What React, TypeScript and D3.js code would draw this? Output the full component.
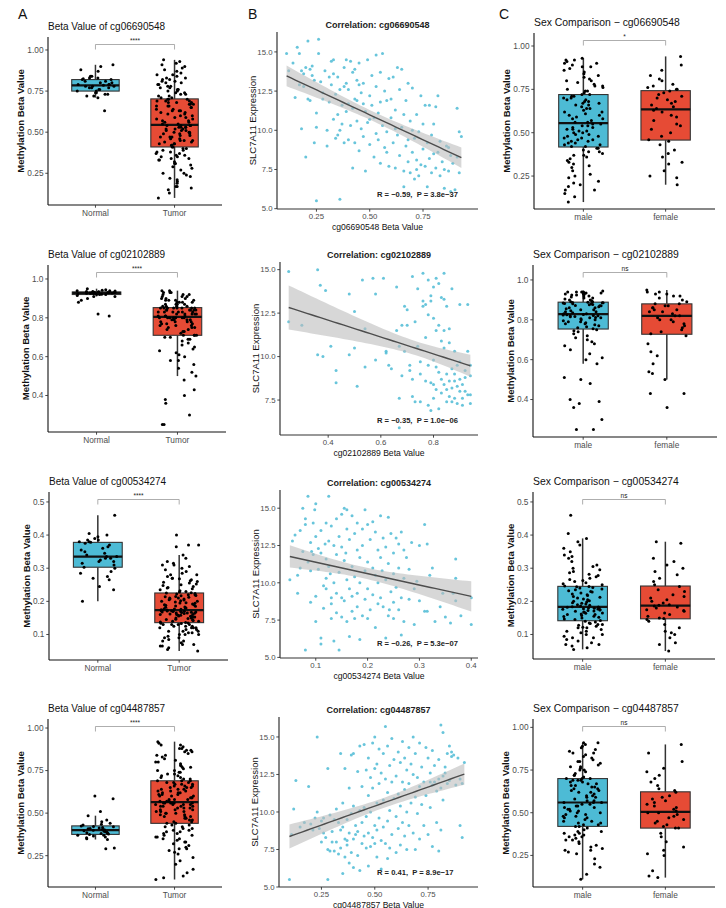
import * as d3 from 'd3';

const FONT = '"Liberation Sans", Arial, Helvetica, sans-serif';
const BLUE = '#4DBBD5';
const RED = '#E64B35';
const MINUS = '\u2212';

const probes = ['cg06690548', 'cg02102889', 'cg00534274', 'cg04487857'];
const tissueCats = ['Normal', 'Tumor'];
const sexCats = ['male', 'female'];
const tissueSig = ['****', '****', '****', '****'];
const sexSig = ['*', 'ns', 'ns', 'ns'];
const corrLabels = [
  `R = ${MINUS}0.59,  P = 3.8e${MINUS}37`,
  `R = ${MINUS}0.35,  P = 1.0e${MINUS}06`,
  `R = ${MINUS}0.26,  P = 5.3e${MINUS}07`,
  `R = 0.41,  P = 8.9e${MINUS}17`,
];

const ticksQuarter = [0.25, 0.5, 0.75, 1];
const ticksFifth = [0.4, 0.6, 0.8, 1];
const ticksTenth = [0.1, 0.2, 0.3, 0.4, 0.5];
const exprTicks = [5, 7.5, 10, 12.5, 15];
const betaXTicks = [[0.25, 0.5, 0.75], [0.4, 0.6, 0.8], [0.1, 0.2, 0.3, 0.4], [0.25, 0.5, 0.75]];

// ---- cg06690548 ----
const normalCg06690548 = [0.63,0.71,0.72,0.72,0.73,0.73,0.74,0.74,0.75,0.75,0.76,0.76,0.77,0.77,0.77,0.78,0.78,0.78,0.785,0.79,0.79,0.79,0.80,0.80,0.81,0.81,0.82,0.82,0.825,0.83,0.83,0.84,0.84,0.87,0.88,0.90,0.91];
const tumorCg06690548 = [
  0.10,0.13,0.15,0.16,0.17,0.17,0.19,0.20,0.21,0.22,0.23,0.24,0.25,0.25,0.27,0.28,0.29,0.30,0.31,0.31,0.32,0.33,0.33,0.34,0.34,0.35,0.35,0.36,0.36,0.37,0.37,0.38,0.38,0.39,0.39,0.40,0.40,0.41,
  0.41,0.42,0.42,0.43,0.43,0.43,0.44,0.44,0.45,0.45,0.45,0.46,0.46,0.47,0.47,0.47,0.48,0.48,0.49,0.49,0.49,0.50,0.50,0.50,0.51,0.51,0.51,0.52,0.52,0.52,0.53,0.53,0.53,0.53,0.54,0.54,0.54,0.54,
  0.55,0.55,0.56,0.56,0.57,0.57,0.58,0.58,0.59,0.59,0.60,0.60,0.61,0.61,0.62,0.62,0.63,0.63,0.63,0.64,0.64,0.65,0.65,0.66,0.66,0.66,0.67,0.67,0.67,0.68,0.68,0.68,0.69,0.69,0.69,0.70,0.70,0.70,
  0.71,0.71,0.72,0.72,0.73,0.73,0.74,0.74,0.75,0.75,0.76,0.76,0.77,0.77,0.78,0.78,0.79,0.79,0.80,0.80,0.81,0.81,0.82,0.82,0.83,0.83,0.84,0.85,0.85,0.86,0.87,0.88,0.89,0.90,0.91,0.92,0.93,0.94,
];
const corrCg06690548 = [
  [0.11,14.9],[0.12,13.8],[0.14,14.3],[0.16,15.3],[0.17,14.9],[0.21,15.7],[0.26,15.8],[0.26,14.9],[0.15,12.1],[0.17,12.9],[0.18,13.8],[0.19,13.6],[0.20,14.0],[0.22,13.9],[0.23,14.1],[0.24,13.2],[0.18,10.1],[0.20,8.3],[0.24,9.2],[0.25,11.1],[0.25,10.2],[0.21,12.0],[0.22,11.9],[0.27,13.1],[0.28,12.4],[0.29,13.8],[0.25,5.5],[0.23,13.5],[0.19,12.8],[0.28,12.0],
  [0.30,9.0],[0.30,10.0],[0.31,13.4],[0.32,14.4],[0.33,14.5],[0.33,13.6],[0.34,12.3],[0.34,9.5],[0.35,13.4],[0.35,11.0],[0.36,5.6],[0.36,12.6],[0.37,11.6],[0.37,10.4],[0.38,12.8],[0.38,14.0],[0.39,14.5],[0.39,13.0],[0.40,12.6],[0.40,11.7],[0.40,9.4],[0.41,14.4],[0.41,10.3],[0.42,13.7],[0.42,7.6],[0.43,12.0],[0.43,9.2],[0.44,13.2],[0.44,10.6],[0.45,14.3],[0.45,12.9],[0.45,8.7],[0.31,11.8],[0.32,12.9],[0.36,10.0],[0.38,9.2],[0.39,11.2],[0.42,11.4],[0.43,13.9],[0.44,11.9],[0.33,10.7],[0.35,9.7],
  [0.46,10.1],[0.46,12.4],[0.47,9.6],[0.47,13.0],[0.48,11.2],[0.48,7.4],[0.49,14.5],[0.49,10.5],[0.50,12.2],[0.50,9.1],[0.51,13.5],[0.51,11.6],[0.52,8.3],[0.52,10.8],[0.53,14.8],[0.53,12.8],[0.54,9.4],[0.54,11.1],[0.55,13.7],[0.55,7.9],[0.56,14.9],[0.56,10.3],[0.57,12.5],[0.57,8.9],[0.58,11.9],[0.58,9.9],[0.59,13.3],[0.59,7.7],[0.60,10.8],[0.60,12.0],[0.47,11.7],[0.50,10.7],[0.53,9.8],[0.55,11.8],[0.58,8.6],
  [0.61,9.2],[0.61,13.4],[0.62,7.6],[0.62,11.3],[0.63,14.0],[0.63,9.7],[0.64,8.4],[0.64,12.6],[0.65,13.9],[0.65,10.2],[0.66,7.4],[0.66,6.4],[0.67,11.9],[0.67,9.0],[0.68,13.0],[0.68,8.0],[0.69,10.6],[0.69,7.3],[0.70,12.7],[0.70,8.6],[0.71,9.5],[0.71,6.9],[0.72,11.0],[0.72,8.1],[0.73,7.1],[0.73,9.9],[0.74,12.2],[0.74,7.8],[0.75,8.8],[0.75,10.4],[0.62,10.1],[0.66,11.0],[0.68,9.4],[0.70,10.0],[0.72,7.5],
  [0.76,11.6],[0.76,7.7],[0.77,9.2],[0.77,6.4],[0.78,8.2],[0.78,11.6],[0.79,7.3],[0.79,9.7],[0.80,8.5],[0.80,10.4],[0.81,11.5],[0.81,7.6],[0.82,12.2],[0.82,8.6],[0.83,9.3],[0.83,7.1],[0.84,8.0],[0.85,7.5],[0.85,6.3],[0.86,9.0],[0.87,8.9],[0.87,7.4],[0.88,8.4],[0.88,6.1],[0.89,7.9],[0.90,6.2],[0.91,11.4],[0.91,8.3],[0.92,9.9],[0.93,9.6],[0.92,7.3],
];
const maleCg06690548 = [
  0.10,0.13,0.15,0.17,0.17,0.19,0.20,0.21,0.22,0.24,0.25,0.26,0.28,0.30,0.31,0.32,0.33,0.34,0.35,0.36,0.37,0.37,0.38,0.39,0.39,0.40,0.41,0.41,
  0.42,0.42,0.43,0.43,0.44,0.44,0.45,0.45,0.46,0.46,0.47,0.47,0.48,0.48,0.49,0.49,0.50,0.50,0.51,0.51,0.52,0.52,0.53,0.53,0.54,0.54,0.55,0.55,
  0.56,0.56,0.57,0.58,0.58,0.59,0.60,0.60,0.61,0.62,0.62,0.63,0.64,0.64,0.65,0.66,0.66,0.67,0.67,0.68,0.68,0.69,0.69,0.70,0.70,0.71,0.71,0.72,
  0.72,0.73,0.74,0.74,0.75,0.76,0.77,0.77,0.78,0.79,0.80,0.80,0.81,0.82,0.83,0.84,0.85,0.86,0.87,0.88,0.88,0.89,0.90,0.90,0.91,0.92,0.92,0.93,
];
const femaleCg06690548 = [
  0.20,0.24,0.25,0.28,0.32,0.33,0.36,0.38,0.40,0.43,0.45,
  0.46,0.48,0.50,0.52,0.54,0.55,0.57,0.59,0.60,0.62,0.63,
  0.64,0.65,0.66,0.67,0.68,0.69,0.70,0.71,0.72,0.73,0.74,
  0.75,0.75,0.76,0.77,0.78,0.80,0.81,0.83,0.86,0.89,0.94,
];

// ---- cg02102889 ----
const normalCg02102889 = [0.81,0.82,0.88,0.89,0.90,0.91,0.91,0.915,0.92,0.92,0.92,0.922,0.924,0.925,0.926,0.927,0.927,0.928,0.928,0.929,0.93,0.93,0.93,0.931,0.932,0.932,0.933,0.933,0.934,0.935,0.936,0.938,0.94,0.94,0.942,0.945,0.95];
const tumorCg02102889 = [
  0.25,0.25,0.30,0.36,0.38,0.40,0.43,0.48,0.50,0.52,0.54,0.56,0.58,0.58,0.60,0.61,0.62,0.63,0.64,0.65,0.66,0.67,0.68,0.69,0.69,0.70,0.70,0.71,0.71,0.71,
  0.71,0.72,0.73,0.73,0.74,0.74,0.75,0.75,0.75,0.76,0.76,0.76,0.77,0.77,0.77,0.78,0.78,0.78,0.78,0.79,0.79,0.79,0.79,0.80,0.80,0.80,0.80,0.80,0.80,0.80,
  0.81,0.81,0.81,0.81,0.82,0.82,0.82,0.82,0.82,0.83,0.83,0.83,0.83,0.83,0.83,0.84,0.84,0.84,0.84,0.84,0.84,0.85,0.85,0.85,0.85,0.85,0.85,0.85,0.85,0.85,
  0.86,0.86,0.86,0.86,0.87,0.87,0.87,0.87,0.88,0.88,0.88,0.88,0.89,0.89,0.89,0.89,0.90,0.90,0.90,0.91,0.91,0.91,0.92,0.92,0.92,0.93,0.93,0.93,0.94,0.94,
];
const corrCg02102889 = [
  [0.25,14.9],[0.25,12.0],[0.30,11.8],[0.36,15.0],[0.37,14.1],[0.39,13.8],[0.36,10.1],[0.38,10.0],[0.41,10.6],[0.43,9.2],[0.43,8.5],[0.48,13.6],[0.48,10.1],[0.50,12.6],[0.50,10.5],[0.51,8.3],[0.53,14.4],[0.54,11.6],[0.54,9.4],[0.57,14.5],[0.58,13.6],[0.58,9.8],[0.61,14.5],[0.62,10.3],[0.62,10.2],[0.63,9.5],[0.64,9.3],[0.66,14.0],[0.66,11.5],[0.67,7.6],[0.67,10.6],[0.67,5.9],
  [0.68,11.8],[0.68,8.9],[0.69,12.9],[0.69,10.3],[0.70,12.7],[0.70,11.8],[0.71,9.5],[0.71,9.2],[0.72,14.6],[0.72,8.7],[0.72,7.7],[0.73,7.4],[0.73,12.0],[0.74,13.9],[0.74,10.6],[0.75,9.7],[0.75,9.0],[0.75,7.4],[0.76,14.8],[0.76,13.2],[0.76,12.9],[0.77,13.0],[0.77,8.6],[0.77,11.1],[0.78,14.4],[0.78,12.4],[0.78,7.2],[0.78,9.5],[0.79,13.5],[0.79,13.2],[0.79,8.5],[0.79,6.9],
  [0.80,14.0],[0.80,12.2],[0.80,9.8],[0.80,8.4],[0.80,7.6],[0.81,14.5],[0.81,11.5],[0.81,9.4],[0.81,8.1],[0.82,14.2],[0.82,11.8],[0.82,9.1],[0.82,7.0],[0.83,13.4],[0.83,10.9],[0.83,8.7],[0.83,7.9],[0.84,14.8],[0.84,13.3],[0.84,11.5],[0.84,10.5],[0.84,8.4],[0.85,12.9],[0.85,9.0],[0.85,8.1],[0.85,7.4],[0.86,11.6],[0.86,10.8],[0.86,8.6],[0.86,7.7],
  [0.87,13.9],[0.87,7.4],[0.87,9.3],[0.87,8.2],[0.88,9.0],[0.88,10.3],[0.88,8.6],[0.88,7.6],[0.89,8.3],[0.89,9.5],[0.89,7.3],[0.90,13.0],[0.90,8.7],[0.90,9.7],[0.90,8.0],[0.91,7.6],[0.91,8.4],[0.91,7.2],[0.92,8.0],[0.92,9.2],[0.92,8.8],[0.93,13.0],[0.93,10.3],[0.93,7.8],[0.94,9.5],[0.94,8.9],[0.94,7.3],[0.94,7.8],
];
const maleCg02102889 = [
  0.25,0.25,0.30,0.36,0.38,0.39,0.40,0.48,0.50,0.51,0.58,0.60,0.61,0.63,0.65,0.67,0.68,0.69,0.70,0.71,0.72,0.73,0.74,0.745,0.75,
  0.755,0.76,0.765,0.77,0.775,0.78,0.78,0.785,0.79,0.79,0.795,0.80,0.80,0.805,0.81,0.81,0.812,0.815,0.817,0.82,0.82,0.822,0.824,0.826,0.827,
  0.83,0.83,0.835,0.84,0.84,0.845,0.85,0.85,0.855,0.86,0.86,0.865,0.87,0.87,0.872,0.875,0.877,0.88,0.88,0.882,0.884,0.885,0.886,0.887,0.888,
  0.89,0.89,0.895,0.90,0.90,0.905,0.91,0.91,0.915,0.92,0.92,0.925,0.925,0.93,0.93,0.93,0.935,0.935,0.935,0.94,0.94,0.94,0.94,0.94,0.945,
];
const femaleCg02102889 = [
  0.36,0.43,0.43,0.50,0.53,0.54,0.58,0.62,0.64,0.68,0.72,
  0.73,0.74,0.75,0.76,0.77,0.78,0.79,0.80,0.80,0.81,0.82,
  0.82,0.83,0.84,0.84,0.85,0.85,0.86,0.86,0.87,0.87,0.88,
  0.88,0.89,0.90,0.91,0.92,0.92,0.93,0.93,0.94,0.94,0.95,
];

// ---- cg00534274 ----
const normalCg00534274 = [0.20,0.235,0.245,0.265,0.27,0.275,0.285,0.29,0.30,0.303,0.31,0.315,0.32,0.32,0.325,0.33,0.33,0.335,0.335,0.34,0.345,0.35,0.355,0.36,0.365,0.37,0.375,0.378,0.38,0.38,0.385,0.385,0.39,0.395,0.40,0.405,0.46];
const tumorCg00534274 = [
  0.05,0.055,0.06,0.065,0.065,0.07,0.07,0.075,0.08,0.08,0.085,0.09,0.09,0.095,0.10,0.10,0.10,0.105,0.105,0.11,0.11,0.11,0.115,0.115,0.12,0.12,0.12,0.12,0.125,0.125,0.125,0.13,0.13,0.13,0.13,0.133,0.134,0.135,
  0.136,0.138,0.14,0.14,0.142,0.144,0.145,0.146,0.148,0.15,0.15,0.152,0.153,0.155,0.155,0.156,0.158,0.158,0.16,0.16,0.16,0.162,0.163,0.164,0.165,0.165,0.166,0.167,0.168,0.168,0.169,0.17,0.17,0.17,0.171,0.172,0.172,0.173,
  0.174,0.175,0.176,0.177,0.178,0.18,0.18,0.182,0.183,0.185,0.186,0.188,0.19,0.19,0.192,0.194,0.195,0.196,0.198,0.20,0.20,0.202,0.204,0.205,0.207,0.208,0.21,0.21,0.212,0.214,0.215,0.217,0.218,0.22,0.22,0.222,0.224,0.225,
  0.226,0.228,0.23,0.232,0.235,0.238,0.24,0.242,0.245,0.248,0.25,0.252,0.255,0.258,0.26,0.262,0.265,0.268,0.27,0.27,0.275,0.28,0.28,0.285,0.29,0.295,0.30,0.305,0.31,0.31,0.315,0.32,0.33,0.34,0.365,0.37,0.37,0.40,
];
const corrCg00534274 = [
  [0.05,10.2],[0.055,12.8],[0.06,13.2],[0.065,10.5],[0.065,9.3],[0.07,13.5],[0.07,11.0],[0.075,15.0],[0.075,12.1],[0.08,5.5],[0.08,14.3],[0.08,13.9],[0.085,15.8],[0.085,11.4],[0.09,12.7],[0.09,10.8],[0.09,8.7],[0.095,14.0],[0.095,11.9],[0.10,15.3],[0.10,13.1],[0.10,9.1],[0.10,7.4],[0.098,14.9],[0.092,12.1],
  [0.105,12.3],[0.105,10.9],[0.11,6.3],[0.11,5.9],[0.11,13.5],[0.11,12.0],[0.115,9.8],[0.115,8.3],[0.12,14.0],[0.12,11.6],[0.12,10.3],[0.12,9.6],[0.125,15.8],[0.125,12.8],[0.125,11.1],[0.13,13.8],[0.13,9.0],[0.13,8.6],[0.13,7.6],[0.135,6.1],[0.135,12.5],[0.135,10.0],[0.14,14.3],[0.14,11.9],[0.14,9.3],[0.14,8.0],[0.145,5.5],[0.145,13.1],[0.145,10.7],[0.15,14.6],[0.15,12.4],[0.15,9.0],[0.15,7.7],[0.118,12.6],[0.128,10.6],
  [0.155,15.0],[0.155,11.5],[0.155,8.8],[0.16,14.9],[0.16,13.6],[0.16,10.2],[0.16,7.4],[0.165,12.9],[0.165,9.6],[0.165,6.4],[0.17,14.5],[0.17,11.1],[0.17,8.1],[0.17,9.1],[0.175,13.3],[0.175,10.4],[0.175,7.6],[0.18,14.0],[0.18,12.2],[0.18,9.3],[0.18,8.4],[0.185,11.7],[0.185,6.2],[0.185,10.0],[0.19,13.6],[0.19,12.5],[0.19,7.8],[0.195,14.9],[0.195,10.8],[0.195,8.9],[0.20,13.9],[0.20,11.4],[0.20,9.6],[0.20,7.6],[0.158,12.0],
  [0.205,12.9],[0.205,8.2],[0.21,14.1],[0.21,11.0],[0.21,9.2],[0.215,13.4],[0.215,10.5],[0.215,7.0],[0.22,12.2],[0.22,8.6],[0.22,10.0],[0.225,14.5],[0.225,11.7],[0.225,9.0],[0.23,13.0],[0.23,8.4],[0.235,12.4],[0.235,10.2],[0.235,6.3],[0.24,14.4],[0.24,11.3],[0.24,7.8],[0.245,13.3],[0.245,9.4],[0.25,12.0],[0.25,10.6],[0.25,8.7],[0.25,7.6],[0.228,10.8],[0.242,8.2],
  [0.255,13.0],[0.255,9.7],[0.26,12.6],[0.26,11.0],[0.26,8.2],[0.265,13.4],[0.265,9.0],[0.265,6.5],[0.27,12.2],[0.27,10.3],[0.27,7.4],[0.275,11.7],[0.28,10.9],[0.28,8.9],[0.285,12.7],[0.29,9.6],[0.29,7.2],[0.295,10.1],[0.30,12.5],[0.30,8.8],
  [0.31,13.9],[0.31,8.1],[0.315,8.1],[0.315,12.6],[0.32,10.5],[0.325,11.0],[0.33,7.4],[0.34,8.4],[0.345,9.3],[0.35,7.7],[0.36,7.3],[0.365,9.3],[0.37,11.6],[0.37,10.3],[0.37,8.8],[0.38,7.8],[0.40,9.0],[0.40,7.2],
];
const maleCg00534274 = [
  0.055,0.06,0.065,0.07,0.07,0.075,0.08,0.085,0.09,0.09,0.095,0.10,0.10,0.105,0.11,0.11,0.115,0.12,0.12,0.122,0.125,0.128,0.13,0.13,0.133,0.135,0.138,0.14,
  0.142,0.145,0.147,0.15,0.152,0.154,0.155,0.157,0.16,0.16,0.162,0.164,0.165,0.167,0.168,0.17,0.171,0.172,0.174,0.175,0.176,0.177,0.178,0.179,0.18,0.181,0.182,0.183,
  0.184,0.186,0.188,0.19,0.192,0.194,0.196,0.198,0.20,0.202,0.205,0.207,0.21,0.212,0.215,0.218,0.22,0.222,0.225,0.228,0.23,0.232,0.235,0.237,0.24,0.242,0.244,0.245,
  0.246,0.25,0.253,0.256,0.26,0.263,0.266,0.27,0.274,0.278,0.282,0.286,0.29,0.295,0.30,0.305,0.31,0.32,0.33,0.335,0.34,0.35,0.36,0.37,0.38,0.39,0.405,0.46,
];
const femaleCg00534274 = [
  0.05,0.07,0.075,0.09,0.10,0.105,0.11,0.12,0.13,0.14,0.145,
  0.148,0.15,0.155,0.16,0.165,0.17,0.172,0.175,0.18,0.183,0.186,
  0.188,0.19,0.195,0.20,0.205,0.21,0.215,0.22,0.23,0.235,0.245,
  0.25,0.26,0.27,0.28,0.29,0.30,0.31,0.32,0.33,0.375,0.38,
];

// ---- cg04487857 ----
const normalCg04487857 = [0.29,0.295,0.345,0.35,0.355,0.36,0.365,0.37,0.37,0.375,0.378,0.38,0.382,0.385,0.388,0.39,0.393,0.396,0.40,0.402,0.405,0.408,0.41,0.413,0.416,0.42,0.422,0.425,0.43,0.435,0.44,0.45,0.46,0.485,0.51,0.585,0.60];
const tumorCg04487857 = [
  0.11,0.12,0.13,0.15,0.17,0.20,0.22,0.24,0.26,0.27,0.28,0.29,0.29,0.30,0.31,0.32,0.33,0.33,0.34,0.35,0.35,0.36,0.36,0.37,0.37,0.38,0.38,0.39,0.39,0.40,0.40,0.41,0.41,0.42,0.42,0.43,0.43,0.44,
  0.44,0.45,0.45,0.46,0.46,0.47,0.47,0.48,0.48,0.48,0.49,0.49,0.50,0.50,0.50,0.51,0.51,0.51,0.52,0.52,0.52,0.53,0.53,0.53,0.54,0.54,0.54,0.54,0.55,0.55,0.55,0.55,0.56,0.56,0.56,0.56,0.56,0.56,
  0.57,0.57,0.57,0.58,0.58,0.58,0.59,0.59,0.59,0.60,0.60,0.60,0.61,0.61,0.61,0.62,0.62,0.62,0.63,0.63,0.63,0.64,0.64,0.64,0.65,0.65,0.65,0.66,0.66,0.66,0.67,0.67,0.67,0.68,0.68,0.68,0.69,0.69,
  0.69,0.70,0.70,0.71,0.71,0.72,0.72,0.73,0.73,0.74,0.74,0.75,0.75,0.76,0.77,0.77,0.78,0.78,0.79,0.80,0.80,0.81,0.82,0.83,0.84,0.84,0.85,0.86,0.86,0.87,0.87,0.88,0.88,0.89,0.90,0.90,0.91,0.92,
];
const corrCg04487857 = [
  [0.10,5.5],[0.11,8.5],[0.12,10.2],[0.13,12.1],[0.15,9.0],[0.17,9.3],[0.19,11.7],[0.20,9.2],[0.21,8.8],[0.23,15.0],[0.23,10.0],[0.24,8.9],[0.25,9.4],[0.25,8.0],[0.26,8.6],[0.26,9.6],[0.27,8.3],[0.28,12.9],[0.28,7.5],[0.28,5.5],[0.29,9.8],[0.29,7.4],[0.30,8.0],[0.30,8.7],[0.22,9.6],
  [0.31,9.5],[0.31,7.4],[0.32,10.2],[0.32,8.0],[0.33,7.2],[0.33,9.3],[0.34,13.9],[0.34,8.8],[0.34,7.6],[0.35,10.6],[0.35,9.0],[0.35,5.9],[0.36,12.9],[0.36,8.2],[0.36,7.0],[0.37,8.1],[0.37,9.5],[0.37,7.8],[0.38,11.6],[0.38,8.6],[0.38,6.6],[0.39,13.8],[0.39,9.9],[0.39,7.3],[0.40,13.9],[0.40,10.4],[0.40,8.2],[0.40,6.3],[0.41,8.5],[0.41,9.1],[0.42,12.7],[0.42,8.7],[0.42,7.1],[0.43,14.4],[0.43,10.1],[0.43,6.1],[0.44,11.7],[0.44,9.3],[0.44,7.9],[0.45,14.5],[0.45,10.3],[0.45,8.4],
  [0.46,12.8],[0.46,9.7],[0.46,7.6],[0.47,13.6],[0.47,11.1],[0.47,8.6],[0.47,6.4],[0.48,12.3],[0.48,10.0],[0.48,7.7],[0.49,14.6],[0.49,11.6],[0.49,8.3],[0.50,15.0],[0.50,12.9],[0.50,9.1],[0.50,7.9],[0.51,13.2],[0.51,10.6],[0.51,8.8],[0.51,7.0],[0.52,14.2],[0.52,11.9],[0.52,9.6],[0.53,12.6],[0.53,8.1],[0.53,6.2],[0.54,13.9],[0.54,10.8],[0.54,9.0],[0.55,15.7],[0.55,12.2],[0.55,7.9],[0.56,14.4],[0.56,11.3],[0.56,9.4],[0.56,6.9],[0.57,13.1],[0.57,10.1],[0.57,7.6],[0.58,14.9],[0.58,12.0],[0.58,8.5],[0.59,13.5],[0.59,10.9],[0.60,12.4],[0.60,9.7],[0.60,7.3],
  [0.61,14.0],[0.61,11.2],[0.61,8.9],[0.62,13.3],[0.62,10.4],[0.62,7.8],[0.63,14.7],[0.63,12.0],[0.63,9.3],[0.64,13.6],[0.64,11.5],[0.64,8.4],[0.65,12.8],[0.65,10.0],[0.65,7.5],[0.66,14.3],[0.66,11.9],[0.66,9.1],[0.67,13.2],[0.67,10.6],[0.68,15.0],[0.68,12.5],[0.68,8.6],[0.69,13.9],[0.69,11.0],[0.69,7.5],[0.70,12.3],[0.70,9.9],[0.71,14.6],[0.71,11.7],[0.71,8.2],[0.72,13.0],[0.72,10.5],[0.73,12.0],[0.73,9.1],[0.74,14.3],[0.74,11.1],[0.75,13.6],[0.75,8.5],
  [0.76,12.6],[0.76,10.3],[0.76,12.0],[0.77,14.1],[0.77,11.8],[0.77,7.7],[0.78,13.1],[0.78,12.0],[0.79,11.4],[0.79,9.3],[0.80,13.5],[0.80,12.2],[0.80,7.4],[0.81,15.8],[0.81,11.6],[0.81,8.8],[0.82,15.3],[0.82,12.4],[0.82,10.8],[0.83,13.0],[0.83,12.6],[0.84,13.9],[0.84,11.9],[0.85,14.4],[0.85,12.1],[0.86,14.0],[0.86,13.7],[0.87,13.8],[0.88,11.8],[0.89,13.6],[0.90,12.2],[0.90,9.1],[0.91,8.3],[0.91,11.9],[0.92,13.3],
];
const maleCg04487857 = [
  0.11,0.14,0.18,0.20,0.23,0.26,0.27,0.28,0.28,0.29,0.30,0.31,0.32,0.33,0.34,0.34,0.35,0.36,0.36,0.37,0.37,0.38,0.38,0.39,0.39,0.40,0.41,0.42,
  0.42,0.43,0.43,0.44,0.44,0.45,0.45,0.46,0.47,0.47,0.48,0.48,0.49,0.49,0.50,0.50,0.51,0.51,0.52,0.52,0.53,0.53,0.54,0.54,0.55,0.55,0.56,0.56,
  0.56,0.57,0.57,0.58,0.59,0.59,0.60,0.60,0.61,0.62,0.62,0.63,0.63,0.64,0.64,0.65,0.65,0.66,0.66,0.67,0.67,0.68,0.68,0.69,0.69,0.69,0.70,0.70,
  0.70,0.71,0.72,0.72,0.73,0.74,0.75,0.75,0.76,0.77,0.77,0.78,0.79,0.80,0.80,0.81,0.82,0.83,0.84,0.85,0.85,0.86,0.87,0.88,0.89,0.90,0.91,0.91,
];
const femaleCg04487857 = [
  0.12,0.13,0.16,0.25,0.26,0.28,0.30,0.33,0.36,0.38,0.41,
  0.41,0.42,0.43,0.44,0.45,0.46,0.47,0.48,0.49,0.50,0.50,
  0.51,0.52,0.53,0.54,0.55,0.56,0.57,0.58,0.59,0.60,0.62,
  0.63,0.64,0.66,0.68,0.70,0.72,0.74,0.76,0.80,0.85,0.90,
];

const tissueGroups = [
  [normalCg06690548, tumorCg06690548],
  [normalCg02102889, tumorCg02102889],
  [normalCg00534274, tumorCg00534274],
  [normalCg04487857, tumorCg04487857],
];
const sexGroups = [
  [maleCg06690548, femaleCg06690548],
  [maleCg02102889, femaleCg02102889],
  [maleCg00534274, femaleCg00534274],
  [maleCg04487857, femaleCg04487857],
];
const corrData = [corrCg06690548, corrCg02102889, corrCg00534274, corrCg04487857];

// layout of each panel (pixels) and axis limits
const boxTicks = [ticksQuarter, ticksFifth, ticksTenth, ticksQuarter];
const boxFormats = ['.2f', '.1f', '.1f', '.2f'];
const layoutA = [
  { left: 48, right: 222, top: 37, bottom: 205, domain: [0.057, 1.079] },
  { left: 48, right: 226, top: 265, bottom: 432, domain: [0.212, 1.072] },
  { left: 49, right: 228, top: 492, bottom: 660, domain: [0.023, 0.53] },
  { left: 48, right: 222, top: 719, bottom: 887, domain: [0.066, 1.053] },
];
const layoutC = [
  { left: 534, right: 715, top: 33, bottom: 209, domain: [0.06, 1.075] },
  { left: 533, right: 717, top: 265, bottom: 437, domain: [0.212, 1.075] },
  { left: 533, right: 715, top: 492, bottom: 659, domain: [0.026, 0.53] },
  { left: 533, right: 715, top: 719, bottom: 887, domain: [0.065, 1.049] },
];
const layoutB = [
  { left: 277, right: 478, top: 32, bottom: 209, xDomain: [0.065, 1.008], yDomain: [4.98, 16.27] },
  { left: 280, right: 478, top: 262, bottom: 435, xDomain: [0.217, 0.969], yDomain: [5.49, 15.44] },
  { left: 280, right: 478, top: 490, bottom: 658, xDomain: [0.031, 0.413], yDomain: [4.96, 16.22] },
  { left: 279, right: 478, top: 717, bottom: 887, xDomain: [0.051, 0.984], yDomain: [5.0, 16.33] },
];

const jitter = (i: number, seed: number) => {
  const s = Math.sin((i + 1) * 12.9898 + seed * 78.233) * 43758.5453;
  return s - Math.floor(s) - 0.5;
};

const boxStats = (vals: number[]) => {
  const s = vals.slice().sort(d3.ascending);
  const q1 = d3.quantile(s, 0.25)!;
  const med = d3.quantile(s, 0.5)!;
  const q3 = d3.quantile(s, 0.75)!;
  const iqr = q3 - q1;
  const lo = d3.min(s.filter((v) => v >= q1 - 1.5 * iqr))!;
  const hi = d3.max(s.filter((v) => v <= q3 + 1.5 * iqr))!;
  return { q1, med, q3, lo, hi };
};

const tickCol = '#4D4D4D';

function BoxPanel({ lay, cats, groups, ticks, fmt, title, titleSize, sig, seed }: any) {
  const { left, right, top, bottom, domain } = lay;
  const x = d3.scalePoint<string>().domain(cats).range([left, right]).padding(0.6);
  const step = x.step();
  const y = d3.scaleLinear().domain(domain).range([bottom, top]);
  const f = d3.format(fmt);
  const bw = step * 0.6;
  const fills = [BLUE, RED];
  const titleOff = fmt === '.2f' ? 27.5 : 22.5;
  const bY = top + 7.5;
  const x1 = x(cats[0])!;
  const x2 = x(cats[1])!;
  return (
    <g>
      <text x={left} y={top - 7} fontSize={titleSize} fill="#111">{title}</text>
      {groups.map((vals: number[], gi: number) => {
        const st = boxStats(vals);
        const cx = x(cats[gi])!;
        return (
          <g key={'b' + gi}>
            <line x1={cx} x2={cx} y1={y(st.lo)} y2={y(st.q1)} stroke="#333" strokeWidth={1.5} />
            <line x1={cx} x2={cx} y1={y(st.q3)} y2={y(st.hi)} stroke="#333" strokeWidth={1.5} />
            <rect x={cx - bw / 2} y={y(st.q3)} width={bw} height={y(st.q1) - y(st.q3)} fill={fills[gi]} stroke="#333" strokeWidth={1.1} />
            <line x1={cx - bw / 2} x2={cx + bw / 2} y1={y(st.med)} y2={y(st.med)} stroke="#111" strokeWidth={2.2} />
          </g>
        );
      })}
      {groups.map((vals: number[], gi: number) => {
        const cx = x(cats[gi])!;
        return (
          <g key={'p' + gi}>
            {vals.map((v, i) => (
              <circle key={i} cx={cx + jitter(i, seed + gi) * 2 * 0.24 * step} cy={y(v)} r={1.5} fill="#000" />
            ))}
          </g>
        );
      })}
      {/* significance bracket */}
      <path d={`M${x1},${bY + 5}V${bY}H${x2}V${bY + 5}`} fill="none" stroke="#999" strokeWidth={0.8} />
      <text x={(x1 + x2) / 2} y={bY - 1.5} fontSize={6.5} textAnchor="middle" fill="#222">{sig}</text>
      {/* axes */}
      <line x1={left} x2={left} y1={top} y2={bottom} stroke="#111" strokeWidth={1.1} />
      <line x1={left} x2={right} y1={bottom} y2={bottom} stroke="#111" strokeWidth={1.1} />
      {ticks.filter((t: number) => t >= domain[0] && t <= domain[1]).map((t: number) => (
        <g key={t}>
          <line x1={left - 2.7} x2={left} y1={y(t)} y2={y(t)} stroke="#333" strokeWidth={0.9} />
          <text x={left - 4.5} y={y(t)} dy="0.35em" fontSize={8.3} textAnchor="end" fill={tickCol}>{f(t)}</text>
        </g>
      ))}
      {cats.map((c: string) => (
        <g key={c}>
          <line x1={x(c)} x2={x(c)} y1={bottom} y2={bottom + 2.7} stroke="#333" strokeWidth={0.9} />
          <text x={x(c)} y={bottom + 10.5} fontSize={8.3} textAnchor="middle" fill={tickCol}>{c}</text>
        </g>
      ))}
      <text transform={`translate(${left - titleOff},${(top + bottom) / 2}) rotate(-90)`} dy="0.35em" fontSize={9.5} fontWeight="bold" textAnchor="middle" fill="#111">
        Methylation Beta Value
      </text>
    </g>
  );
}

const linFit = (pts: number[][]) => {
  const n = pts.length;
  const mx = d3.mean(pts, (d) => d[0])!;
  const my = d3.mean(pts, (d) => d[1])!;
  const sxx = d3.sum(pts, (d) => (d[0] - mx) ** 2);
  const sxy = d3.sum(pts, (d) => (d[0] - mx) * (d[1] - my));
  const b = sxy / sxx;
  const a = my - b * mx;
  const s = Math.sqrt(d3.sum(pts, (d) => (d[1] - a - b * d[0]) ** 2) / (n - 2));
  return { a, b, s, n, mx, sxx };
};

function ScatterPanel({ lay, pts, xTicks, probe, label }: any) {
  const { left, right, top, bottom, xDomain, yDomain } = lay;
  const x = d3.scaleLinear().domain(xDomain).range([left, right]);
  const y = d3.scaleLinear().domain(yDomain).range([bottom, top]);
  const fit = linFit(pts);
  const [xmin, xmax] = d3.extent(pts, (d: number[]) => d[0]) as [number, number];
  const xs = d3.range(41).map((k) => xmin + ((xmax - xmin) * k) / 40);
  const se = (v: number) => 1.97 * fit.s * Math.sqrt(1 / fit.n + (v - fit.mx) ** 2 / fit.sxx);
  const yhat = (v: number) => fit.a + fit.b * v;
  const band = d3.area<number>().x((v) => x(v)).y0((v) => y(yhat(v) - se(v))).y1((v) => y(yhat(v) + se(v)));
  const line = d3.line<number>().x((v) => x(v)).y((v) => y(yhat(v)));
  const xf = d3.format(xTicks[0] === 0.25 ? '.2f' : '.1f');
  const yf = d3.format('.1f');
  const cx = (left + right) / 2;
  return (
    <g>
      <text x={cx} y={top - 4.5} fontSize={9} fontWeight="bold" textAnchor="middle" fill="#222">{`Correlation: ${probe}`}</text>
      {pts.map((d: number[], i: number) => (
        <circle key={i} cx={x(d[0])} cy={y(d[1])} r={1.5} fill={BLUE} fillOpacity={0.85} />
      ))}
      <path d={band(xs)!} fill="#BDBDBD" fillOpacity={0.6} />
      <path d={line(xs)!} fill="none" stroke="#4D4D4D" strokeWidth={1.4} />
      <text x={377} y={bottom - 12} fontSize={7.6} fontWeight="bold" fill="#222" style={{ whiteSpace: 'pre' }}>{label}</text>
      <line x1={left} x2={left} y1={top} y2={bottom} stroke="#333" strokeWidth={1.2} />
      <line x1={left} x2={right} y1={bottom} y2={bottom} stroke="#333" strokeWidth={1.2} />
      {exprTicks.filter((t) => t >= yDomain[0] && t <= yDomain[1]).map((t) => (
        <g key={t}>
          <line x1={left - 2.7} x2={left} y1={y(t)} y2={y(t)} stroke="#333" strokeWidth={0.9} />
          <text x={left - 4.5} y={y(t)} dy="0.35em" fontSize={7.8} textAnchor="end" fill={tickCol}>{yf(t)}</text>
        </g>
      ))}
      {xTicks.map((t: number) => (
        <g key={t}>
          <line x1={x(t)} x2={x(t)} y1={bottom} y2={bottom + 2.7} stroke="#333" strokeWidth={0.9} />
          <text x={x(t)} y={bottom + 10} fontSize={7.8} textAnchor="middle" fill={tickCol}>{xf(t)}</text>
        </g>
      ))}
      <text transform={`translate(${left - 24},${(top + bottom) / 2}) rotate(-90)`} dy="0.35em" fontSize={9.5} textAnchor="middle" fill="#111">
        SLC7A11 Expression
      </text>
      <text x={cx} y={bottom + 20.5} fontSize={8.6} textAnchor="middle" fill="#111">{`${probe} Beta Value`}</text>
    </g>
  );
}

export default function App() {
  return (
    <svg width={726} height={908} fontFamily={FONT} style={{ position: 'absolute', left: 0, top: 0, display: 'block' }}>
      <rect width={726} height={908} fill="#fff" />
      <text x={18} y={18.5} fontSize={14} fill="#111">A</text>
      <text x={248} y={18.5} fontSize={14} fill="#111">B</text>
      <text x={499} y={18.5} fontSize={14} fill="#111">C</text>
      {probes.map((p, r) => (
        <g key={p}>
          <BoxPanel lay={layoutA[r]} cats={tissueCats} groups={tissueGroups[r]} ticks={boxTicks[r]} fmt={boxFormats[r]}
            title={`Beta Value of ${p}`} titleSize={10} sig={tissueSig[r]} seed={r * 3 + 1} />
          <ScatterPanel lay={layoutB[r]} pts={corrData[r]} xTicks={betaXTicks[r]} probe={p} label={corrLabels[r]} />
          <BoxPanel lay={layoutC[r]} cats={sexCats} groups={sexGroups[r]} ticks={boxTicks[r]} fmt={boxFormats[r]}
            title={`Sex Comparison ${MINUS} ${p}`} titleSize={10.4} sig={sexSig[r]} seed={r * 3 + 20} />
        </g>
      ))}
    </svg>
  );
}
